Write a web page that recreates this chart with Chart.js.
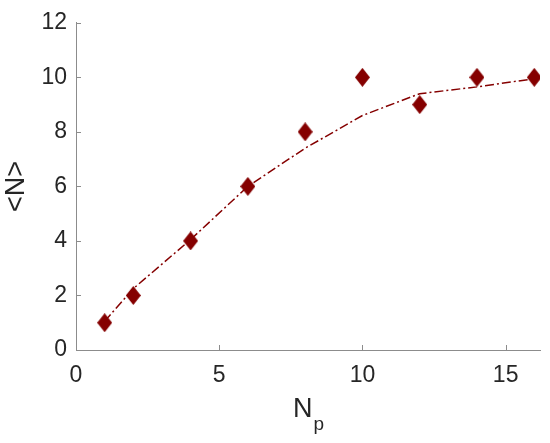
<!DOCTYPE html>
<html>
<head>
<meta charset="utf-8">
<script src="https://cdn.jsdelivr.net/npm/chart.js@4.4.1/dist/chart.umd.min.js"></script>
<style>
  html, body { margin: 0; padding: 0; background: #fff; }
  #wrap { width: 550px; height: 443px; }
</style>
</head>
<body>
<div id="wrap"><canvas id="grafico" width="550" height="443"></canvas></div>
<script>
// Datos
const npValores = [1, 2, 4, 6, 8, 10, 12, 14, 16];
const mediaN = [1, 2, 4, 6, 8, 10, 9, 10, 10];
const ajusteN = [1.05, 2.25, 4.05, 6.0, 7.4, 8.6, 9.4, 9.65, 9.95];
const ticksX = [0, 5, 10, 15];
const ticksY = [0, 2, 4, 6, 8, 10, 12];

const rojo = '#850000';
const gris = '#8c8c8c';
const fuente = "'Liberation Sans', Arial, sans-serif";

// Marcador de rombo (mas alto que ancho)
function crearRombo(w, h) {
    const c = document.createElement('canvas');
    c.width = w;
    c.height = h;
    const g = c.getContext('2d');
    g.fillStyle = rojo;
    g.beginPath();
    g.moveTo(w / 2, 0);
    g.lineTo(w, h / 2);
    g.lineTo(w / 2, h);
    g.lineTo(0, h / 2);
    g.closePath();
    g.fill();
    return c;
}
const rombo = crearRombo(15, 19);

// Marcas de los ejes hacia dentro y titulo del eje x con subindice
const marcasEjes = {
    id: 'marcasEjes',
    afterDraw(chart) {
        const ctx = chart.ctx;
        const x = chart.scales.x;
        const y = chart.scales.y;
        const area = chart.chartArea;
        ctx.save();
        ctx.strokeStyle = gris;
        ctx.lineWidth = 1;
        ctx.beginPath();
        ticksX.forEach(v => {
            const px = Math.round(x.getPixelForValue(v)) + 0.5;
            ctx.moveTo(px, area.bottom);
            ctx.lineTo(px, area.bottom - 5);
        });
        ticksY.forEach(v => {
            const py = Math.round(y.getPixelForValue(v)) + 0.5;
            ctx.moveTo(area.left, py);
            ctx.lineTo(area.left + 5, py);
        });
        ctx.stroke();

        // N con subindice p
        ctx.fillStyle = '#262626';
        ctx.textBaseline = 'alphabetic';
        ctx.font = '27px ' + fuente;
        const wN = ctx.measureText('N').width;
        ctx.font = '19px ' + fuente;
        const wP = ctx.measureText('p').width;
        const cx = (area.left + area.right) / 2;
        const x0 = cx - (wN + wP) / 2;
        ctx.font = '27px ' + fuente;
        ctx.fillText('N', x0, 417);
        ctx.font = '19px ' + fuente;
        ctx.fillText('p', x0 + wN + 1, 430);
        ctx.restore();
    }
};

new Chart(document.getElementById('grafico'), {
    type: 'scatter',
    data: {
        datasets: [{
            label: 'ajuste',
            data: npValores.map((v, i) => ({ x: v, y: ajusteN[i] })),
            showLine: true,
            borderColor: rojo,
            borderWidth: 1.5,
            borderDash: [9, 3, 2, 3],
            pointRadius: 0,
            fill: false
        }, {
            label: '<N>',
            data: npValores.map((v, i) => ({ x: v, y: mediaN[i] })),
            pointStyle: rombo,
            pointRadius: 9,
            backgroundColor: rojo,
            borderColor: rojo
        }]
    },
    options: {
        responsive: false,
        animation: false,
        layout: {
            padding: { left: 0, right: 8, top: 17, bottom: 0 }
        },
        scales: {
            x: {
                type: 'linear',
                min: 0,
                max: 16.2,
                afterBuildTicks: scale => {
                    scale.ticks = ticksX.map(v => ({ value: v }));
                },
                afterFit: scale => {
                    scale.height = 93;
                },
                grid: { drawOnChartArea: false, drawTicks: false },
                border: { color: gris, width: 1 },
                ticks: {
                    color: '#262626',
                    font: { family: fuente, size: 23 },
                    padding: 12,
                    maxRotation: 0
                },
                title: { display: false }
            },
            y: {
                min: 0,
                max: 12,
                afterBuildTicks: scale => {
                    scale.ticks = ticksY.map(v => ({ value: v }));
                },
                afterFit: scale => {
                    scale.width = 76;
                },
                grid: { drawOnChartArea: false, drawTicks: false },
                border: { color: gris, width: 1 },
                ticks: {
                    color: '#262626',
                    font: { family: fuente, size: 23 },
                    padding: 9
                },
                title: {
                    display: true,
                    text: '<N>',
                    color: '#262626',
                    font: { family: fuente, size: 27 },
                    padding: { top: 0, bottom: 0 }
                }
            }
        },
        plugins: {
            legend: { display: false },
            tooltip: { enabled: false }
        }
    },
    plugins: [marcasEjes]
});
</script>
</body>
</html>
